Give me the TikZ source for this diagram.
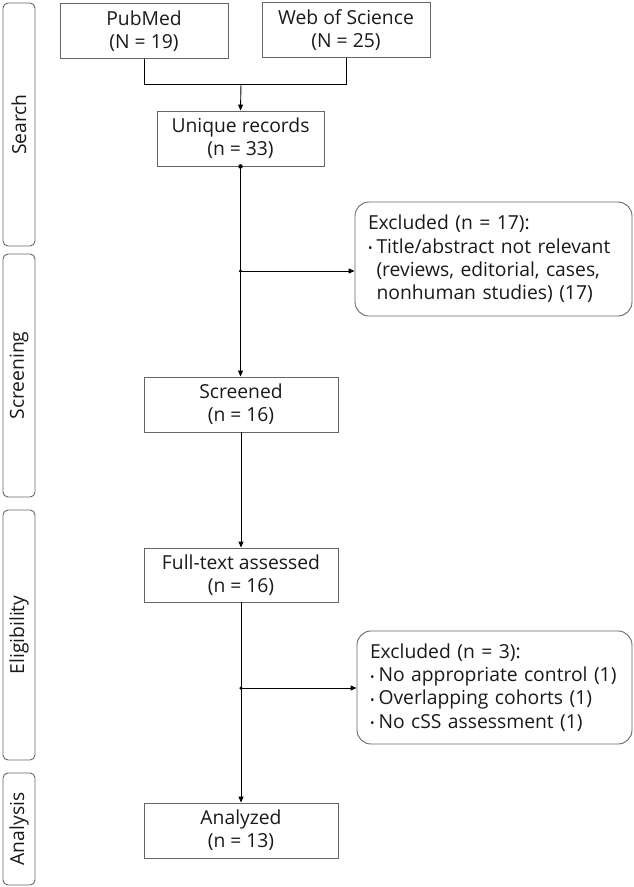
\documentclass[tikz,border=0pt]{standalone}
\usepackage{fontspec}
\setmainfont{Open Sans}
\usetikzlibrary{arrows.meta}
\begin{document}
\begin{tikzpicture}[x=1pt,y=-1pt,
  txt/.style={font=\fontsize{19.3}{23.3}\selectfont, text=black!90},
  sq/.style={txt, draw=black!60, line width=0.9pt, align=center, inner sep=0pt},
  rbox/.style={txt, draw=black!60, line width=0.9pt, rounded corners=14pt, align=left, inner xsep=13pt, inner ysep=0pt},
  side/.style={draw=black!60, line width=0.9pt, rounded corners=5pt},
  sidelabel/.style={txt, rotate=90},
  conn/.style={line width=0.9pt, black},
  arr/.style={conn, -{Triangle[length=6pt,width=5pt]}},
  jdot/.style={circle, fill=black, inner sep=0pt, minimum size=4.5pt}
]
\useasboundingbox (0,0) rectangle (634,887);

% side stage boxes
\draw[side] (3,3) rectangle (35,246);
\draw[side] (3,254) rectangle (35,497);
\draw[side] (3,510) rectangle (35,760);
\draw[side] (3,773) rectangle (35,885);
\node[sidelabel] (lsearch) at (19,124.5) {Search};
\node[sidelabel] (lscreen) at (19,375.5) {Screening};
\node[sidelabel] (lelig) at (19,635) {Eligibility};
\node[sidelabel] (lanal) at (19,829) {Analysis};

% main boxes
\node[sq, minimum width=168pt, minimum height=55pt] (pub) at (144,31) {PubMed\\(N = 19)};
\node[sq, minimum width=168pt, minimum height=55pt] (wos) at (346,30) {Web of Science\\(N = 25)};
\node[sq, minimum width=167pt, minimum height=55pt] (uniq) at (240.5,138.5) {Unique records\\(n = 33)};
\node[sq, minimum width=194pt, minimum height=55pt] (scr) at (241,404.5) {Screened\\(n = 16)};
\node[sq, minimum width=194pt, minimum height=54pt] (full) at (241,575) {Full-text assessed\\(n = 16)};
\node[sq, minimum width=194pt, minimum height=55pt] (anal) at (241,830.5) {Analyzed\\(n = 13)};

\newcommand{\bul}{\makebox[8.5pt][l]{\raisebox{0.5pt}{\fontsize{12}{12}\selectfont •}}}
\newcommand{\ind}{\hspace*{8.5pt}}

\node[rbox, text width=251pt, minimum height=114pt] (ex1) at (493.5,259)
  {Excluded (n = 17):\\
   \bul Title/abstract not relevant\\
   \ind(reviews, editorial, cases,\\
   \ind nonhuman studies) (17)};
\node[rbox, text width=249pt, minimum height=113pt] (ex2) at (494.5,687.5)
  {Excluded (n = 3):\\
   \bul No appropriate control (1)\\
   \bul Overlapping cohorts (1)\\
   \bul No cSS assessment (1)};

% connectors
\coordinate (j) at (241,84);
\draw[conn] (pub.south) |- (j);
\draw[conn] (wos.south) |- (j);
\draw[arr] (j) -- (uniq.south |- uniq.north);

\draw[arr] (uniq.south) -- (uniq.south |- scr.north);
\node[jdot] (d0) at (uniq.south) {};
\coordinate (b1) at (uniq.south |- 0,271);
\node[jdot, minimum size=3.5pt] (d1) at (b1) {};
\draw[arr] (b1) -- (b1 -| ex1.west);

\draw[arr] (scr.south) -- (full.north);
\draw[arr] (full.south) -- (anal.north);
\coordinate (b2) at (full.south |- 0,688);
\node[jdot, minimum size=3.5pt] (d2) at (b2) {};
\draw[arr] (b2) -- (b2 -| ex2.west);
\end{tikzpicture}
\end{document}
